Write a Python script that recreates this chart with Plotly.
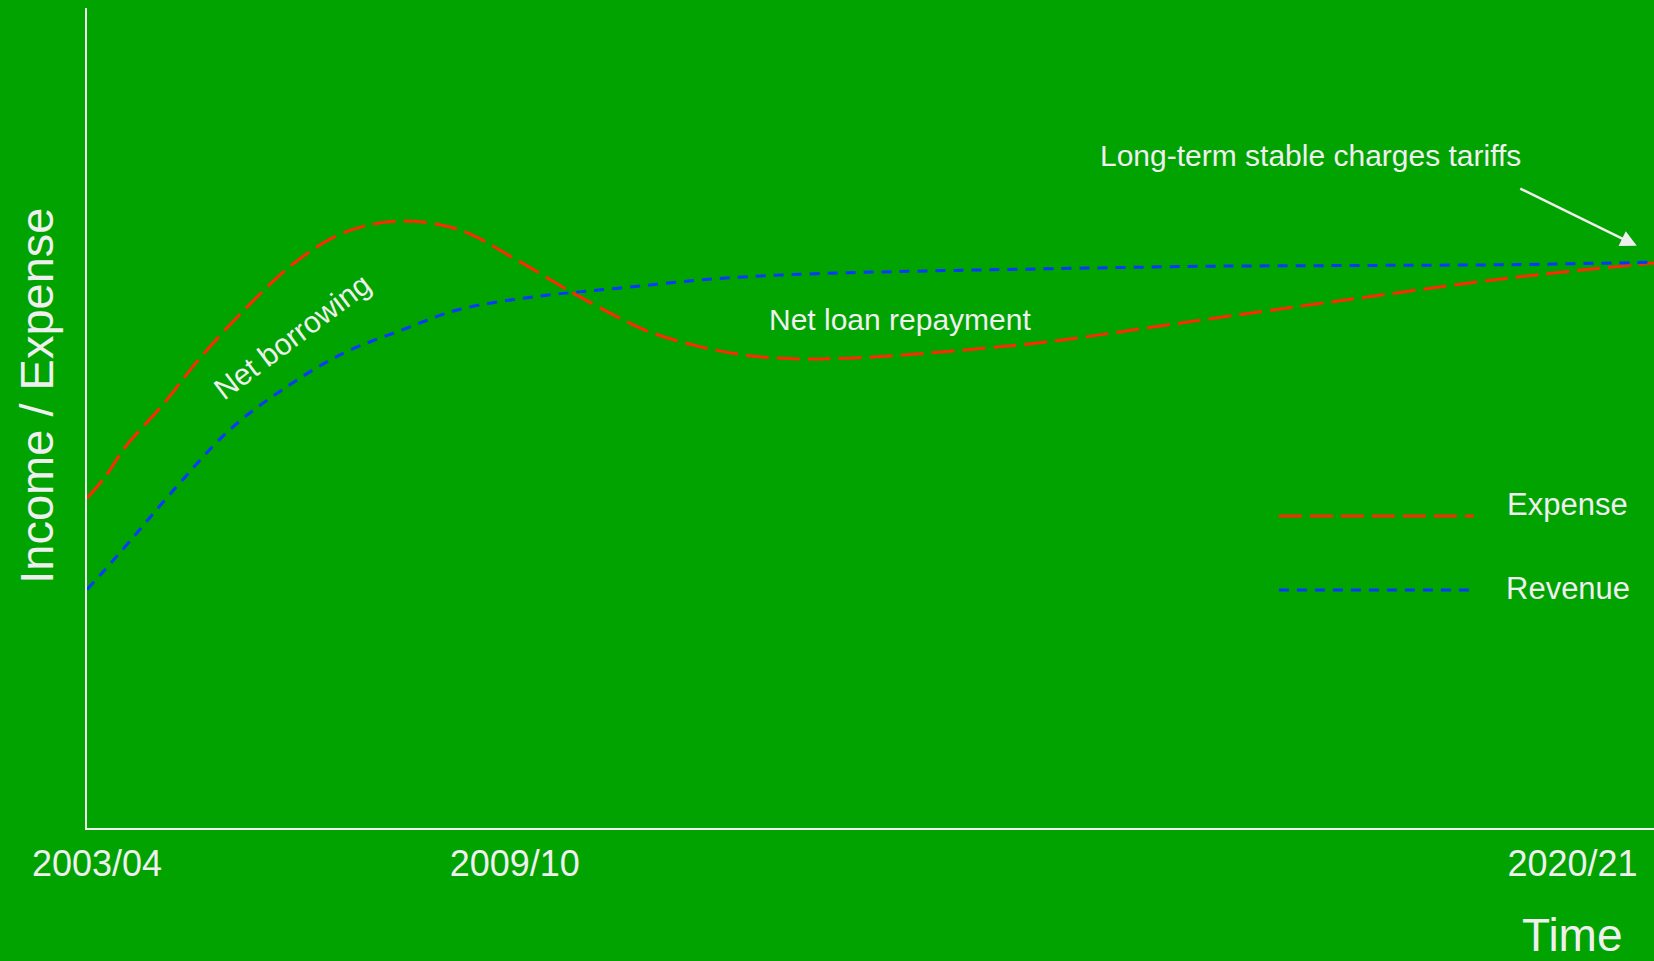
import plotly.graph_objects as go

# Time index (0 = 2003/04 start of axis, 100 = end of axis)
expense_t = [0, 1.15, 2.46, 4.92, 7.12, 10.05, 13.23, 16.4, 19.82, 23.7, 27.4, 31.06,
             33.78, 35.9, 39.1, 42.3, 45.5, 48.7, 52.9, 57.2, 61.4, 71.3, 81.1, 90.9, 100]
expense_v = [40.2, 42.8, 46.5, 51.8, 57.1, 63.2, 68.9, 72.6, 74.0, 73.0, 69.3, 65.2,
             62.4, 60.5, 58.7, 57.6, 57.2, 57.3, 57.8, 58.5, 59.3, 62.0, 64.6, 67.1, 68.9]

revenue_t = [0, 1.15, 2.7, 5.39, 9.07, 12.74, 16.37, 20.06, 23.7, 28.6, 33.78, 40.2,
             46.5, 52.9, 61.4, 71.3, 81.1, 90.9, 100]
revenue_v = [29.1, 31.5, 34.9, 40.9, 48.5, 53.8, 57.9, 60.7, 63.2, 64.8, 65.8, 67.0,
             67.6, 67.9, 68.2, 68.5, 68.6, 68.7, 69.0]

tick_positions = [0.64, 27.3, 94.8]
tick_labels = ["2003/04", "2009/10", "2020/21"]

series_names = ["Expense", "Revenue"]

BG = "#00a300"
FG = "#efefef"
RED = "#ff2a00"
BLUE = "#0038ff"
FONT = "Arial, Liberation Sans, sans-serif"
RED_DASH = "23px,8px"
BLUE_DASH = "10px,8px"

fig = go.Figure()
fig.add_trace(go.Scatter(x=expense_t, y=expense_v, mode="lines", name=series_names[0],
                         line=dict(color=RED, width=3, dash=RED_DASH, shape="spline", smoothing=1.0)))
fig.add_trace(go.Scatter(x=revenue_t, y=revenue_v, mode="lines", name=series_names[1],
                         line=dict(color=BLUE, width=3, dash=BLUE_DASH, shape="spline", smoothing=1.0)))

fig.update_layout(
    width=1654, height=961,
    paper_bgcolor=BG, plot_bgcolor=BG,
    margin=dict(l=87, r=0, t=8, b=133),
    showlegend=False,
    font=dict(family=FONT, color=FG),
    xaxis=dict(range=[0, 100], showgrid=False, zeroline=False, showline=True,
               linecolor=FG, linewidth=2, ticks="", tickmode="array",
               tickvals=tick_positions, ticktext=tick_labels,
               tickfont=dict(size=36, color=FG, family=FONT), ticklabelstandoff=3),
    yaxis=dict(range=[0, 100], showgrid=False, zeroline=False, showline=True,
               linecolor=FG, linewidth=2, ticks="", showticklabels=False),
)

ann_font = dict(family=FONT, size=30, color=FG)
center = dict(xanchor="center", yanchor="middle")

# Axis titles
fig.add_annotation(xref="paper", yref="paper", x=-0.032, y=0.527, text="Income / Expense",
                   textangle=-90, showarrow=False, font=dict(family=FONT, size=47, color=FG), **center)
fig.add_annotation(xref="paper", yref="paper", x=0.948, y=-0.131, text="Time",
                   showarrow=False, font=dict(family=FONT, size=46, color=FG), **center)

# In-chart labels
fig.add_annotation(x=13.1, y=59.9, text="Net borrowing", textangle=-37, showarrow=False,
                   font=dict(family=FONT, size=30, color=FG), **center)
fig.add_annotation(x=51.9, y=62.0, text="Net loan repayment", showarrow=False, font=ann_font, **center)
fig.add_annotation(x=78.1, y=82.0, text="Long-term stable charges tariffs", showarrow=False,
                   font=ann_font, **center)
fig.add_annotation(x=98.9, y=71.0, ax=-118, ay=-58, axref="pixel", ayref="pixel", text="",
                   showarrow=True, arrowhead=2, arrowsize=1.3, arrowwidth=2.5, arrowcolor=FG)

# Legend (manual, long keys)
legend_rows = [(0.3805, 0.395, RED, RED_DASH), (0.2902, 0.2915, BLUE, BLUE_DASH)]
for name, (ly, ty, col, dash) in zip(series_names, legend_rows):
    fig.add_shape(type="line", xref="paper", yref="paper", x0=0.7606, x1=0.885, y0=ly, y1=ly,
                  line=dict(color=col, width=3, dash=dash))
    fig.add_annotation(xref="paper", yref="paper", x=0.945, y=ty, text=name,
                       showarrow=False, font=dict(family=FONT, size=31, color=FG), **center)

fig.write_html("out.html", config={"displayModeBar": False},
               post_script="document.body.style.margin='0';document.body.style.padding='0';"
                           "document.body.style.overflow='hidden';")
